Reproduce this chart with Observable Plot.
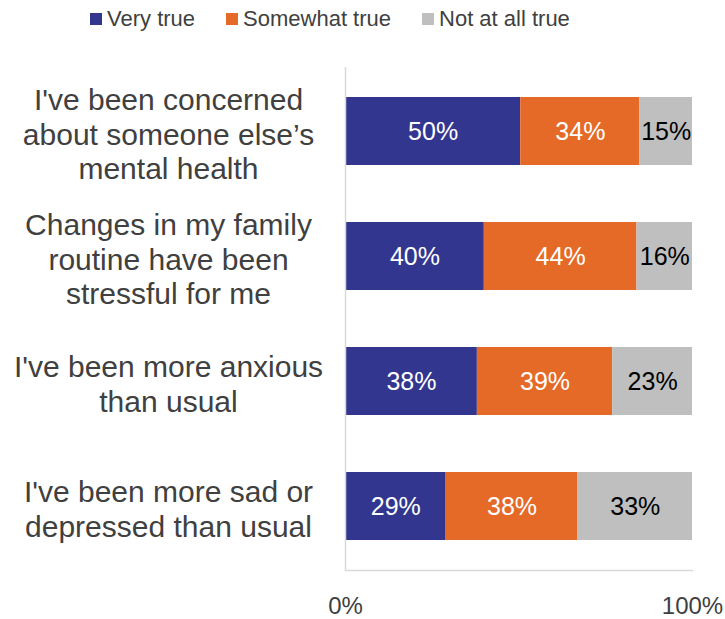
<!DOCTYPE html>
<html>
<head>
<meta charset="utf-8">
<script src="https://cdn.jsdelivr.net/npm/d3@7"></script>
<script src="https://cdn.jsdelivr.net/npm/@observablehq/plot@0.6"></script>
<style>
  body { margin: 0; background: #fff; font-family: "Liberation Sans", Arial, sans-serif; }
  #legend { height: 36px; display: flex; align-items: center; padding-left: 90px; padding-top: 1px; box-sizing: border-box; font-size: 22px; color: #404040; }
  .item { display: flex; align-items: center; margin-right: 31px; }
  .sw { width: 12px; height: 12px; margin-right: 5px; display: inline-block; }
  svg { display: block; }
</style>
</head>
<body>
<div id="legend"></div>
<div id="chart"></div>
<script>
const questions = [
  "I've been concerned\nabout someone else’s\nmental health",
  "Changes in my family\nroutine have been\nstressful for me",
  "I've been more anxious\nthan usual",
  "I've been more sad or\ndepressed than usual"
];
const responses = ["Very true", "Somewhat true", "Not at all true"];
const colors = ["#32368F", "#E56A28", "#BFBFBF"];
const veryTrue = [50, 40, 38, 29];
const somewhatTrue = [34, 44, 39, 38];
const notAtAllTrue = [15, 16, 23, 33];
const xTicks = [0, 1];

const series = [veryTrue, somewhatTrue, notAtAllTrue];
const data = [];
questions.forEach((q, i) => {
  responses.forEach((r, j) => data.push({question: q, response: r, value: series[j][i]}));
});

// legend
const legend = document.getElementById("legend");
responses.forEach((r, j) => {
  const it = document.createElement("span");
  it.className = "item";
  it.innerHTML = `<span class="sw" style="background:${colors[j]}"></span><span>${r}</span>`;
  legend.appendChild(it);
});

const font = '"Liberation Sans", Arial, sans-serif';
const chart = Plot.plot({
  width: 725,
  height: 583,
  marginTop: 31,
  marginBottom: 49,
  marginLeft: 345,
  marginRight: 33,
  style: {fontFamily: font, color: "#404040", background: "#fff"},
  x: {domain: [0, 1], axis: null, label: null},
  y: {domain: questions, paddingInner: 0.46, paddingOuter: 0.23, axis: null},
  color: {domain: responses, range: colors},
  marks: [
    Plot.barX(data, Plot.stackX({x: "value", y: "question", fill: "response", offset: "normalize", order: responses})),
    Plot.text(data, Plot.stackX({
      x: "value", y: "question", z: "response", offset: "normalize", order: responses,
      text: d => d.value + "%",
      fill: d => d.response === "Not at all true" ? "#000" : "#fff",
      fontSize: 25, fontFamily: font
    })),
    Plot.ruleX([0], {stroke: "#D9D9D9", strokeWidth: 1.5}),
    Plot.frame({anchor: "bottom", stroke: "#D9D9D9", strokeWidth: 1.5}),
    Plot.axisX({ticks: xTicks, tickFormat: d3.format(".0%"), tickSize: 0, tickPadding: 26, fontSize: 24, fill: "#404040", label: null}),
    Plot.text(questions, {
      y: d => d, text: d => d, frameAnchor: "left", dx: -177, dy: 2,
      textAnchor: "middle", lineAnchor: "middle", lineHeight: 1.15,
      fontSize: 30, fill: "#404040", fontFamily: font
    })
  ]
});
document.getElementById("chart").appendChild(chart);
</script>
</body>
</html>
